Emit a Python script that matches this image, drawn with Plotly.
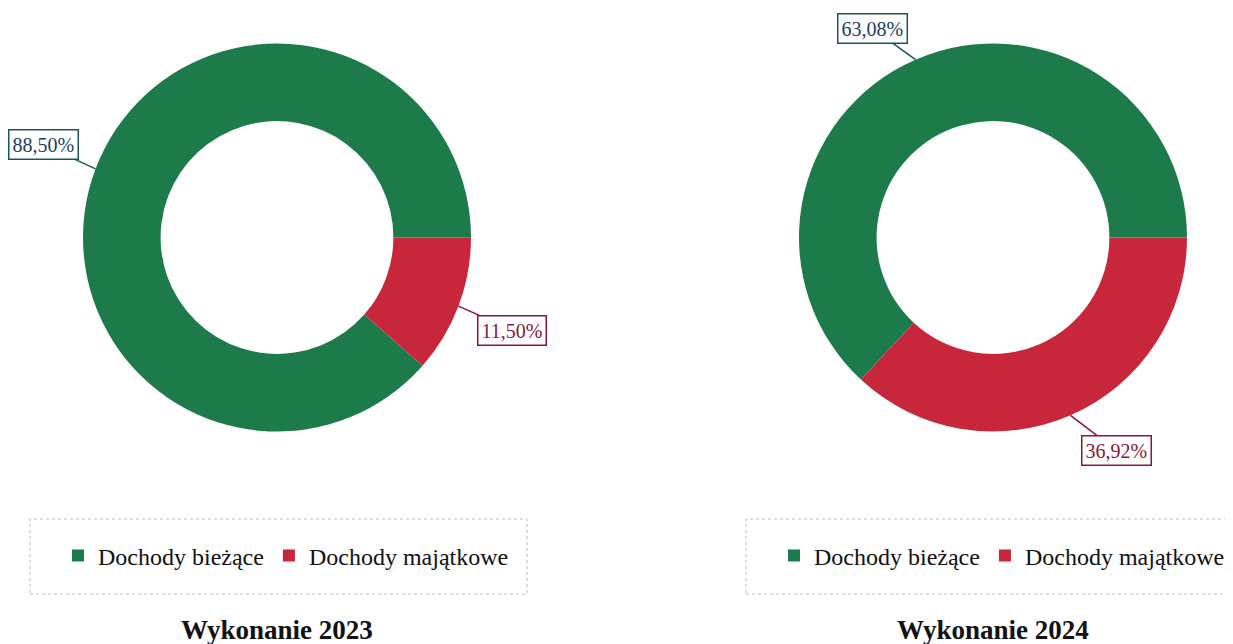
import math
import plotly.graph_objects as go

labels = ["Dochody bieżące", "Dochody majątkowe"]
values_2023 = [88.50, 11.50]
values_2024 = [63.08, 36.92]
titles = ["Wykonanie 2023", "Wykonanie 2024"]

colors = ["#1d7a4b", "#c8273b"]
label_text_colors = ["#1c3d5e", "#8a1538"]
label_border_colors = ["#1b5657", "#8a1538"]

# page body has an 8px margin: work in window pixels, convert to figure
OFF = 8
WIN_W, WIN_H = 1233, 644
W, H = WIN_W - OFF, WIN_H - OFF
FONT = "Liberation Serif"


def px(x):
    return (x - OFF) / W


def py(y):
    return 1 - (y - OFF) / H


# geometry (window pixels)
centers = [(277, 237.5), (993, 237.5)]
R = 194
# label offsets (pixels from tip to label box centre)
offsets = [
    [(-52, -24), (54, 24)],
    [(-43, -31), (46, 35)],
]

fig = go.Figure()
annotations = []
shapes = []
for i, (vals, (cx, cy)) in enumerate(zip([values_2023, values_2024], centers)):
    suffix = "" if i == 0 else "\u200b"
    total = sum(vals)
    red_frac = vals[1] / total
    fig.add_trace(go.Pie(
        labels=[l + suffix for l in labels], values=vals, hole=0.6, sort=False,
        direction="clockwise", rotation=90 + red_frac * 360,
        marker=dict(colors=colors, line=dict(width=0)),
        textinfo="none", hoverinfo="label+percent",
        domain=dict(x=[px(cx - R), px(cx + R)], y=[py(cy + R), py(cy - R)]),
        legend="legend" if i == 0 else "legend2",
        showlegend=True,
    ))
    for j, v in enumerate(vals):
        frac = v / total
        # green runs counterclockwise from 3 o'clock, red fills the rest
        mid = frac * 180.0 if j == 0 else -frac * 180.0
        ang = math.radians(mid)
        tx = cx + R * math.cos(ang)
        ty = cy - R * math.sin(ang)
        ox, oy = offsets[i][j]
        annotations.append(dict(
            x=px(tx), y=py(ty), xref="paper", yref="paper",
            ax=ox, ay=oy, axref="pixel", ayref="pixel",
            text=f"{v:.2f}%".replace(".", ","),
            showarrow=True, arrowhead=0, arrowwidth=1.5,
            arrowcolor=label_border_colors[j],
            font=dict(family=FONT, size=20, color=label_text_colors[j]),
            bordercolor=label_border_colors[j], borderwidth=1.5, borderpad=3,
            bgcolor="white",
        ))
    # legend frame
    shapes.append(dict(type="rect", xref="paper", yref="paper",
                       x0=px(cx - 247), x1=px(cx + 250),
                       y0=py(594), y1=py(519),
                       line=dict(color="#bdbdbd", width=1, dash="dot")))
    annotations.append(dict(
        x=px(cx), y=py(630), xref="paper", yref="paper",
        text=f"<b>{titles[i]}</b>", showarrow=False,
        font=dict(family=FONT, size=27, color="#111111"),
        xanchor="center", yanchor="middle",
    ))

legend_common = dict(orientation="h", xanchor="left", yanchor="middle",
                     font=dict(family=FONT, size=24, color="#111111"),
                     bgcolor="rgba(0,0,0,0)", borderwidth=0)

fig.update_layout(
    width=W, height=H,
    margin=dict(l=0, r=0, t=0, b=0),
    paper_bgcolor="white", plot_bgcolor="white",
    annotations=annotations, shapes=shapes,
    legend=dict(x=px(58), y=py(556), **legend_common),
    legend2=dict(x=px(58 + 716), y=py(556), **legend_common),
)

fig.write_html("out.html")
